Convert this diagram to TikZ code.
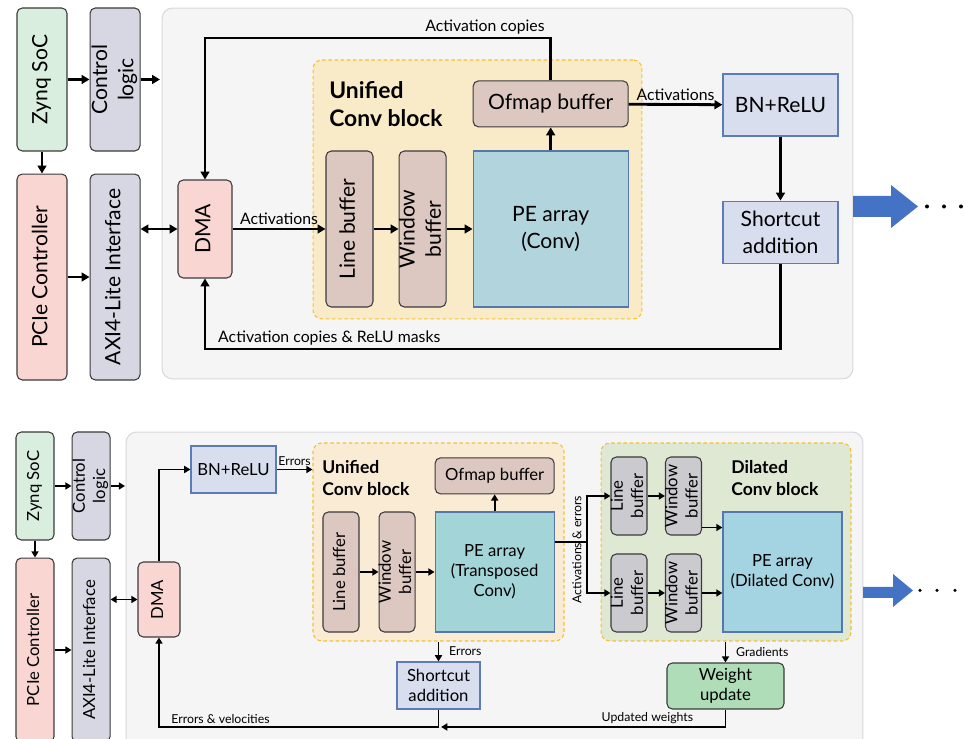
\documentclass[tikz,border=0pt]{standalone}
\usepackage{fontspec}
\setmainfont{Lato}
\usepackage{graphicx}
\usetikzlibrary{arrows.meta, positioning, calc}
\definecolor{socgreen}{HTML}{D9EEDF}
\definecolor{ctrlgray}{HTML}{D6D7E3}
\definecolor{pcipink}{HTML}{FAD6D3}
\definecolor{bufbrown}{HTML}{DCC7C1}
\definecolor{peblue}{HTML}{B2D4DD}
\definecolor{peteal}{HTML}{A3D5D8}
\definecolor{pesky}{HTML}{A4D3E1}
\definecolor{peedge}{HTML}{5577AA}
\definecolor{bnfill}{HTML}{D8DEEE}
\definecolor{bnedge}{HTML}{5B7CB8}
\definecolor{convyellow}{HTML}{FAEBC8}
\definecolor{convpeach}{HTML}{FAEBD5}
\definecolor{dilgreen}{HTML}{DEE8D3}
\definecolor{dashyellow}{HTML}{F4C030}
\definecolor{dilgray}{HTML}{CBCACF}
\definecolor{wugreen}{HTML}{AEDDB8}
\definecolor{panelgray}{HTML}{F5F5F5}
\definecolor{paneledge}{HTML}{D9D9D9}
\definecolor{flowblue}{HTML}{4472C4}
\definecolor{boxedge}{HTML}{3A3A3A}

\newcommand{\vtext}[1]{\makebox[0pt]{\rotatebox{90}{\begin{tabular}{@{}c@{}}#1\end{tabular}}}}

\begin{document}
\begin{tikzpicture}[
    x=0.02cm, y=-0.02cm,
    hostbox/.style={rectangle, draw=boxedge, line width=0.6pt, rounded corners=3pt, inner sep=0pt},
    bluebox/.style={rectangle, draw=bnedge, fill=bnfill, line width=0.7pt, inner sep=0pt, align=center},
    pebox/.style={rectangle, draw=peedge, line width=0.7pt, inner sep=0pt, align=center},
    blockarea/.style={rectangle, draw=dashyellow, dash pattern=on 2pt off 1.5pt, line width=0.6pt, rounded corners=5pt, inner sep=0pt},
    panelbg/.style={rectangle, draw=paneledge, fill=panelgray, rounded corners=6pt, inner sep=0pt, line width=0.6pt},
    bigfont/.style={font=\fontsize{12}{15}\selectfont},
    midfont/.style={font=\fontsize{9.5}{11.5}\selectfont},
    blocktitle/.style={font=\bfseries\fontsize{13}{16}\selectfont, align=left, inner sep=0pt},
    sblocktitle/.style={font=\bfseries\fontsize{10}{12.5}\selectfont, align=left, inner sep=0pt},
    arrow/.style={-{Triangle[length=4.5pt, width=5pt]}, line width=1.6pt},
    darrow/.style={{Triangle[length=4.5pt, width=5pt]}-{Triangle[length=4.5pt, width=5pt]}, line width=1.6pt},
    wire/.style={line width=1.6pt},
    sarrow/.style={-{Triangle[length=3.5pt, width=4pt]}, line width=1.1pt},
    sdarrow/.style={{Triangle[length=3.5pt, width=4pt]}-{Triangle[length=3.5pt, width=4pt]}, line width=1.1pt},
    swire/.style={line width=1.1pt},
    tag/.style={font=\fontsize{9}{10}\selectfont, inner sep=1.5pt},
    stag/.style={font=\fontsize{7}{8}\selectfont, inner sep=1.5pt},
]
    \useasboundingbox (0,0) rectangle (965,739);
    \clip (0,0) rectangle (965,739);
    \fill[white] (0,0) rectangle (965,739);

    % ---------- forward pass ----------
    \node[hostbox, fill=socgreen, minimum width=1cm, minimum height=2.86cm, bigfont] (zynq) at (42,79.5) {\vtext{Zynq SoC}};
    \node[hostbox, fill=ctrlgray, minimum width=1cm, minimum height=2.86cm, bigfont, right=0.44cm of zynq] (ctrl) {\vtext{Control\\logic}};
    \node[hostbox, fill=pcipink, minimum width=1cm, minimum height=4.12cm, bigfont, below=0.44cm of zynq] (pcie) {\vtext{PCIe Controller}};
    \node[hostbox, fill=ctrlgray, minimum width=1cm, minimum height=4.12cm, bigfont, right=0.44cm of pcie] (axi) {\vtext{AXI4-Lite Interface}};

    \node[panelbg, minimum width=13.82cm, minimum height=7.42cm] (panel) at (507.5,193.5) {};
    \node[blockarea, fill=convyellow, minimum width=6.58cm, minimum height=5.18cm] (conv) at (477.5,189.5) {};
    \node[blocktitle, anchor=west] (convtitle) at (329,104) {Unified\\Conv block};

    \node[hostbox, fill=pcipink, minimum width=1.08cm, minimum height=1.96cm, bigfont] (dma) at (205,229) {\vtext{DMA}};
    \node[hostbox, fill=bufbrown, minimum width=0.94cm, minimum height=3.12cm, bigfont] (lbuf) at (349.5,229) {\vtext{Line buffer}};
    \node[hostbox, fill=bufbrown, minimum width=0.94cm, minimum height=3.12cm, bigfont, right=0.5cm of lbuf] (wbuf) {\vtext{Window\\buffer}};
    \node[pebox, fill=peblue, minimum width=3.1cm, minimum height=3.12cm, bigfont, right=0.52cm of wbuf] (pe) {PE array\\(Conv)};
    \node[hostbox, fill=bufbrown, minimum width=3.1cm, minimum height=0.92cm, bigfont, above=0.46cm of pe] (ofmap) {Ofmap buffer};
    \node[bluebox, minimum width=2.3cm, minimum height=1.24cm, bigfont] (bn) at (780.5,105) {BN+ReLU};
    \node[bluebox, minimum width=2.3cm, minimum height=1.24cm, bigfont, below=1.28cm of bn] (sc) {Shortcut\\addition};

    \coordinate (ctrlout) at (160,79.5);
    \coordinate (topwire) at (0,38);
    \coordinate (botwire) at (0,349);

    \draw[arrow] (zynq) -- (ctrl);
    \draw[arrow] (ctrl) -- (ctrlout);
    \draw[arrow] (zynq) -- (pcie);
    \draw[arrow] (pcie) -- (axi);
    \draw[darrow] (dma.west -| axi.east) -- (dma.west);
    \draw[arrow] (dma) -- node[tag, above] {Activations} (lbuf);
    \draw[arrow] (lbuf) -- (wbuf);
    \draw[arrow] (wbuf) -- (pe);
    \draw[arrow] (pe) -- (ofmap);
    \draw[arrow] (ofmap) -- node[tag, above] {Activations} (bn);
    \draw[arrow] (bn) -- (sc);
    \draw[arrow] (ofmap.north) -- (ofmap.north |- topwire) -| node[tag, above, pos=0.095] {Activation copies} (dma.north);
    \draw[arrow] (sc.south) -- (sc.south |- botwire) -| node[tag, above, pos=0.392] {Activation copies \& ReLU masks} (dma.south);

    \fill[flowblue] (853,196) -- (891,196) -- (891,185) -- (918,206.5) -- (891,228) -- (891,217) -- (853,217) -- cycle;
    \foreach \x in {927,944,961}
        \fill (\x,206.5) circle[radius=0.04cm];

    % ---------- backward pass ----------
    \node[hostbox, fill=socgreen, minimum width=0.76cm, minimum height=2.16cm, midfont] (zynq2) at (35,486) {\vtext{Zynq SoC}};
    \node[hostbox, fill=ctrlgray, minimum width=0.76cm, minimum height=2.16cm, midfont, right=0.34cm of zynq2] (ctrl2) {\vtext{Control\\logic}};
    \node[hostbox, fill=pcipink, minimum width=0.76cm, minimum height=3.68cm, midfont, below=0.34cm of zynq2] (pcie2) {\vtext{PCIe Controller}};
    \node[hostbox, fill=ctrlgray, minimum width=0.76cm, minimum height=3.68cm, midfont, right=0.34cm of pcie2] (axi2) {\vtext{AXI4-Lite Interface}};

    \node[panelbg, minimum width=14.74cm, minimum height=6.56cm] (panel2) at (494.5,596) {};
    \node[blockarea, fill=convpeach, minimum width=5.02cm, minimum height=3.96cm] (conv2) at (438.5,542) {};
    \node[blockarea, fill=dilgreen, minimum width=5cm, minimum height=3.96cm] (dil) at (726,542) {};
    \node[sblocktitle, anchor=west] (conv2title) at (322,478) {Unified\\Conv block};
    \node[sblocktitle, anchor=west] (diltitle) at (731,478) {Dilated\\Conv block};

    \node[hostbox, fill=pcipink, minimum width=0.84cm, minimum height=1.5cm, midfont] (dma2) at (159,599.5) {\vtext{DMA}};
    \node[bluebox, minimum width=1.7cm, minimum height=0.94cm, midfont] (bn2) at (233.5,469.5) {BN+ReLU};
    \node[hostbox, fill=bufbrown, minimum width=0.72cm, minimum height=2.4cm, midfont] (lbuf2) at (341,572) {\vtext{Line buffer}};
    \node[hostbox, fill=bufbrown, minimum width=0.72cm, minimum height=2.4cm, midfont, right=0.38cm of lbuf2] (wbuf2) {\vtext{Window\\buffer}};
    \node[pebox, fill=peteal, minimum width=2.38cm, minimum height=2.4cm, midfont, right=0.38cm of wbuf2] (pe2) {PE array\\(Transposed\\Conv)};
    \node[hostbox, fill=bufbrown, minimum width=2.38cm, minimum height=0.72cm, midfont, above=0.34cm of pe2] (ofmap2) {Ofmap buffer};
    \node[bluebox, minimum width=1.66cm, minimum height=0.94cm, midfont] (sc2) at (438.5,685.5) {Shortcut\\addition};

    \node[hostbox, fill=dilgray, minimum width=0.72cm, minimum height=1.56cm, midfont] (lbufa) at (629,496) {\vtext{Line\\buffer}};
    \node[hostbox, fill=dilgray, minimum width=0.72cm, minimum height=1.56cm, midfont] (wbufa) at (683.5,496) {\vtext{Window\\buffer}};
    \node[hostbox, fill=dilgray, minimum width=0.72cm, minimum height=1.56cm, midfont] (lbufb) at (629,593) {\vtext{Line\\buffer}};
    \node[hostbox, fill=dilgray, minimum width=0.72cm, minimum height=1.56cm, midfont] (wbufb) at (683.5,593) {\vtext{Window\\buffer}};
    \node[pebox, fill=pesky, minimum width=2.38cm, minimum height=2.4cm, midfont] (pe3) at (782.5,572) {PE array\\(Dilated Conv)};
    \node[hostbox, fill=wugreen, minimum width=2.34cm, minimum height=0.92cm, midfont, align=center] (wu) at (725.5,686) {Weight\\update};

    \coordinate (ctrlout2) at (125,486);
    \coordinate (split) at (587,542);
    \coordinate (botwire2) at (0,727);

    \draw[sarrow] (zynq2) -- (ctrl2);
    \draw[sarrow] (ctrl2) -- (ctrlout2);
    \draw[sarrow] (zynq2) -- (pcie2);
    \draw[sarrow] (pcie2) -- (axi2);
    \draw[sdarrow] (dma2.west -| axi2.east) -- (dma2.west);
    \draw[sarrow] (dma2.north) |- (bn2.west);
    \draw[sarrow] (bn2.east) -- node[stag, above] {Errors} (bn2.east -| conv2.west);
    \draw[sarrow] (lbuf2) -- (wbuf2);
    \draw[sarrow] (wbuf2) -- (pe2);
    \draw[sarrow] (pe2) -- (ofmap2);
    \draw[sarrow] (sc2.north |- conv2.south) -- node[stag, right=4pt] {Errors} (sc2.north);

    \draw[swire] (pe2.east |- split) -- (split);
    \draw[sarrow] (split) |- (lbufa.west);
    \draw[sarrow] (split) |- (lbufb.west);
    \node[stag, rotate=90] (acterr) at (577,549.5) {Activations \& errors};
    \draw[sarrow] (lbufa) -- (wbufa);
    \draw[sarrow] ([yshift=0.16cm]wbufa.south east) -- ([yshift=0.16cm]wbufa.south east -| pe3.west);
    \draw[sarrow] (lbufb) -- (wbufb);
    \draw[sarrow] (wbufb) -- (wbufb -| pe3.west);
    \draw[sarrow] (wu.north |- dil.south) -- node[stag, right=4pt] {Gradients} (wu.north);

    \draw[sarrow, shorten >=1.5pt] (wu.south) |- node[stag, above, pos=0.636] {Updated weights} (sc2.south |- botwire2);
    \draw[sarrow] (sc2.south) -- (sc2.south |- botwire2) -| node[stag, above, pos=0.39] {Errors \& velocities} (dma2.south);

    \fill[flowblue] (863,587) -- (893,587) -- (893,574) -- (913,590.5) -- (893,607) -- (893,598) -- (863,598) -- cycle;
    \foreach \x in {920,937,955}
        \fill (\x,590.5) circle[radius=0.035cm];
\end{tikzpicture}
\end{document}
